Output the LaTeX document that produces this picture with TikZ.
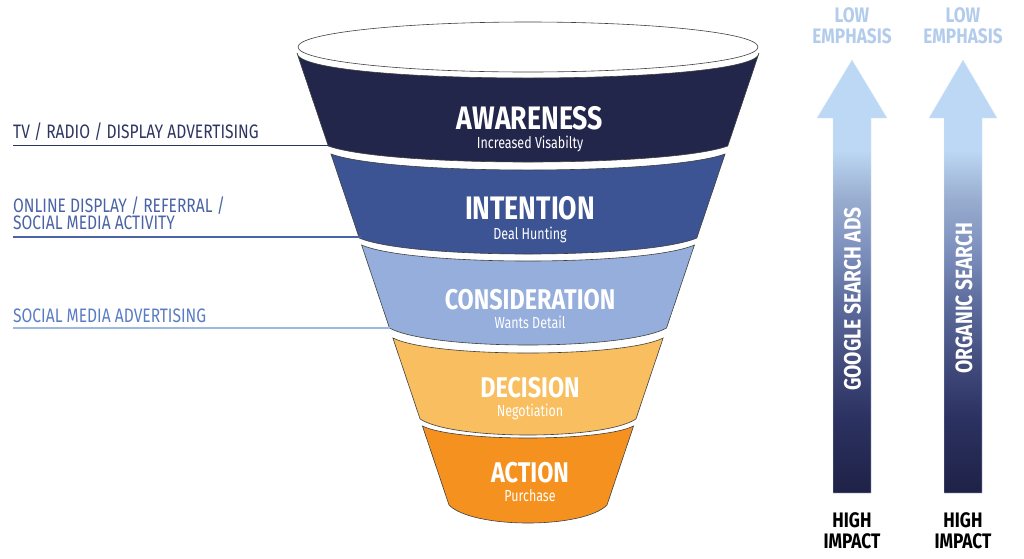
\documentclass[tikz,border=0pt]{standalone}
\usepackage{fontspec}
\setmainfont{Fira Sans}
\newfontfamily\condb[FakeStretch=0.82]{Fira Sans}
\newfontfamily\condr[FakeStretch=0.8]{Fira Sans}
\newfontfamily\condsub[FakeStretch=0.78]{Fira Sans}
\definecolor{cAware}{HTML}{23264B}
\definecolor{cIntent}{HTML}{3C5493}
\definecolor{cConsid}{HTML}{95AEDB}
\definecolor{cDecis}{HTML}{F8BE5F}
\definecolor{cAct}{HTML}{F5921F}
\definecolor{lblA}{HTML}{2E3560}
\definecolor{lblB}{HTML}{4A63A5}
\definecolor{lblC}{HTML}{5A7CC4}
\definecolor{lineC}{HTML}{9DB8E3}
\definecolor{lowc}{HTML}{B3CCEC}
\definecolor{shA}{HTML}{1F2247}
\definecolor{shB}{HTML}{2B3160}
\definecolor{shC}{HTML}{3A4374}
\definecolor{shD}{HTML}{5E6E9E}
\definecolor{shE}{HTML}{7D90BD}
\definecolor{shF}{HTML}{98ACCF}
\definecolor{shG}{HTML}{BCD8F4}
\pgfdeclareverticalshading{arrowshade}{100bp}{color(0bp)=(shA); color(25bp)=(shA); color(33.45bp)=(shB); color(38bp)=(shC); color(47.3bp)=(shD); color(53bp)=(shE); color(58.85bp)=(shF); color(64.6bp)=(shG); color(75bp)=(shG); color(100bp)=(shG)}
\newcommand\drawband[6]{%
 \pgfmathsetmacro\bwT{231-0.3363*(#1-53)}%
 \pgfmathsetmacro\bwB{231-0.3363*(#2-53)}%
 \pgfmathsetmacro\bcT{#1+4/3*#3}%
 \pgfmathsetmacro\bcB{#2+4/3*#4}%
 \draw[bandline, fill=#5] ({528-\bwT},#1) .. controls ({528-#6*\bwT},\bcT) and ({528+#6*\bwT},\bcT) .. ({528+\bwT},#1) -- ({528+\bwB},#2) .. controls ({528+0.7*\bwB},\bcB) and ({528-0.7*\bwB},\bcB) .. ({528-\bwB},#2) -- cycle;
}
\begin{document}
\begin{tikzpicture}[x=1pt,y=-1pt,
  bandline/.style={draw=black!75, line width=0.6pt},
  bigtxt/.style={text=white, anchor=base, inner sep=0pt, font=\condb\bfseries\fontsize{32.5}{34}\selectfont},
  midtxt/.style={text=white, anchor=base, inner sep=0pt, font=\condb\bfseries\fontsize{28.5}{30}\selectfont},
  subtxt/.style={text=white, anchor=base, inner sep=0pt, font=\condsub\fontsize{16}{18}\selectfont},
  lefttxt/.style={anchor=base west, inner sep=0pt, font=\condr\fontsize{19.5}{17}\selectfont},
  sidetxt/.style={anchor=base, inner sep=0pt, font=\condb\bfseries\fontsize{21}{22}\selectfont},
  arrowtxt/.style={text=white, inner sep=0pt, rotate=90, font=\condb\bfseries\fontsize{23.5}{24}\selectfont},
  bigarrow/.style={shading=arrowshade, draw=shG!60, line width=0.4pt}]
\useasboundingbox (0,0) rectangle (1024,558);
% funnel bands
\drawband{53}{146}{25}{16}{cAware}{1.0}
\drawband{154}{238}{16}{16}{cIntent}{0.7}
\drawband{245}{328}{16}{17}{cConsid}{0.7}
\drawband{338}{419}{15}{16}{cDecis}{0.7}
\drawband{426}{505}{12}{18}{cAct}{0.7}
\draw[bandline, fill=white] (528,47) ellipse [x radius=230, y radius=25];
% funnel texts
\node[bigtxt] (aw) at (530,129) {AWARENESS};
\node[subtxt] (aws) at (530,148) {Increased Visabilty};
\node[bigtxt] (in) at (530,219) {INTENTION};
\node[subtxt] (ins) at (530,239) {Deal Hunting};
\node[midtxt] (co) at (530,309.5) {CONSIDERATION};
\node[subtxt] (cos) at (530,328) {Wants Detail};
\node[midtxt] (de) at (530,397.5) {DECISION};
\node[subtxt] (des) at (530,416) {Negotiation};
\node[midtxt] (ac) at (530,482.5) {ACTION};
\node[subtxt] (acs) at (530,501) {Purchase};
% left labels
\node[lefttxt, text=lblA] (la) at (13,138) {TV / RADIO / DISPLAY ADVERTISING};
\node[lefttxt, text=lblB, align=left] (lb) at (13,229) {ONLINE DISPLAY / REFERRAL /\\SOCIAL MEDIA ACTIVITY};
\node[lefttxt, text=lblC] (lc) at (13,322) {SOCIAL MEDIA ADVERTISING};
\coordinate (la0) at (13,145.5); \coordinate (la1) at (330,145.5);
\coordinate (lb0) at (13,237); \coordinate (lb1e) at (361,237);
\coordinate (lc0) at (13,328); \coordinate (lc1) at (390,328);
\draw[lblA, line width=1.8pt] (la0) -- (la1);
\draw[lblB, line width=1.8pt] (lb0) -- (lb1e);
\draw[lineC, line width=1.8pt] (lc0) -- (lc1);
% arrows
\path[bigarrow] (833,493) -- (833,118) -- (817,118) -- (852,60) -- (887,118) -- (871,118) -- (871,493) -- cycle;
\path[bigarrow] (944,493) -- (944,118) -- (929,118) -- (963,60) -- (997,118) -- (982,118) -- (982,493) -- cycle;
\node[arrowtxt] (gsa) at (852.5,299) {GOOGLE SEARCH ADS};
\node[arrowtxt] (ors) at (964,298) {ORGANIC SEARCH};
\node[sidetxt, text=lowc] (low1) at (852,22) {LOW};
\node[sidetxt, text=lowc] (emp1) at (852,43) {EMPHASIS};
\node[sidetxt, text=lowc] (low2) at (963,22) {LOW};
\node[sidetxt, text=lowc] (emp2) at (963,43) {EMPHASIS};
\node[sidetxt, text=black] (hi1) at (852,527) {HIGH};
\node[sidetxt, text=black] (im1) at (852,548) {IMPACT};
\node[sidetxt, text=black] (hi2) at (963,527) {HIGH};
\node[sidetxt, text=black] (im2) at (963,548) {IMPACT};
\end{tikzpicture}
\end{document}
